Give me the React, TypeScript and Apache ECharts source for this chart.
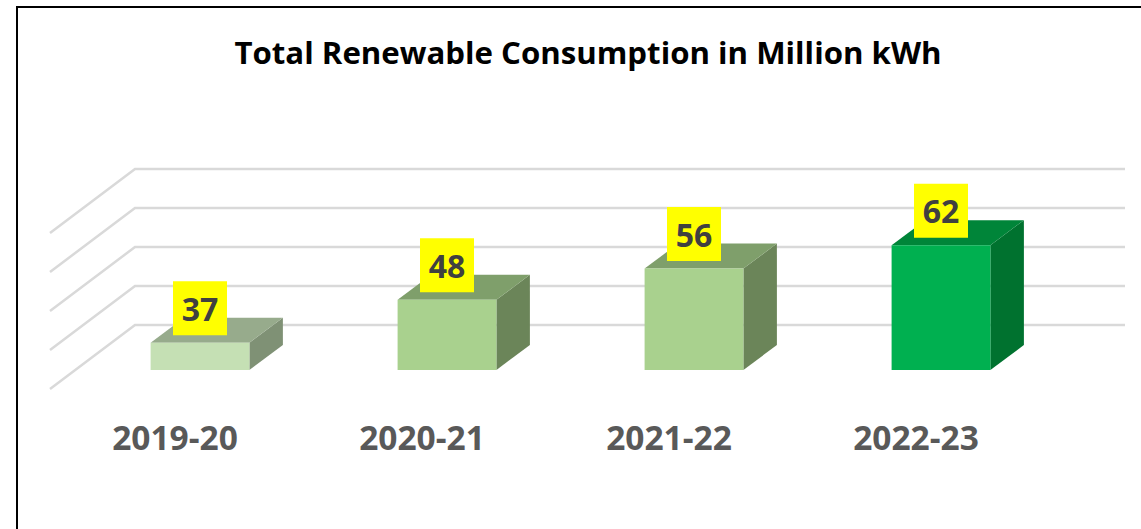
import React, { useEffect, useRef } from "react";
import * as echarts from "echarts";

const categories = ["2019-20", "2020-21", "2021-22", "2022-23"];
const consumption = [37, 48, 56, 62];
const gridValues = [30, 40, 50, 60, 70];
const frontColors = ["#c5e0b4", "#a9d18e", "#a9d18e", "#00b050"];
const topColors = ["#97ab8c", "#7f9f6b", "#7f9f6b", "#008539"];
const sideColors = ["#7f9175", "#6b8559", "#6b8559", "#00722f"];

const TITLE = "Total Renewable Consumption in Million kWh";
const FONT = "'Open Sans', sans-serif";

export default function App() {
  const ref = useRef<HTMLDivElement>(null);

  useEffect(() => {
    const chart = echarts.init(ref.current!, undefined, { renderer: "svg" });
    const depthX = 33.5;
    const depthY = 25;

    chart.setOption({
      animation: false,
      backgroundColor: "#ffffff",
      title: {
        text: TITLE,
        left: 583,
        top: 31,
        textAlign: "center",
        textStyle: { fontFamily: FONT, fontSize: 31.2, fontWeight: "bold", color: "#000000" },
      },
      grid: { left: 76.5, top: 214, width: 988, height: 156 },
      xAxis: {
        type: "category",
        data: categories,
        axisLine: { show: false },
        axisTick: { show: false },
        splitLine: { show: false },
        axisLabel: {
          margin: 50,
          padding: [0, 50, 0, 0],
          fontFamily: FONT,
          fontSize: 33.5,
          fontWeight: "bold",
          color: "#595959",
        },
      },
      yAxis: { type: "value", min: 30, max: 70, interval: 10, show: false },
      graphic: [
        {
          type: "polyline",
          silent: true,
          z: 100,
          shape: {
            points: [
              [17, 529],
              [17, 7],
              [1141, 7],
            ],
          },
          style: { fill: "none", stroke: "#000000", lineWidth: 2 },
        },
      ],
      series: [
        {
          type: "custom",
          silent: true,
          z: 1,
          data: gridValues.map((v) => [0, v]),
          encode: { x: 0, y: 1 },
          renderItem: (_p: any, api: any) => {
            const y = api.coord([0, api.value(1)])[1];
            return {
              type: "polyline",
              shape: {
                points: [
                  [50, y + 19],
                  [135, y - 45],
                  [1125, y - 45],
                ],
              },
              style: { fill: "none", stroke: "#d9d9d9", lineWidth: 2.5 },
            };
          },
        },
        {
          type: "custom",
          z: 2,
          data: consumption.map((v, i) => [i, v]),
          encode: { x: 0, y: 1 },
          renderItem: (p: any, api: any) => {
            const i = api.value(0);
            const value = api.value(1);
            const [cx, top] = api.coord([i, value]);
            const [, base] = api.coord([i, 30]);
            const halfW = (api.size([1, 0])[0] * 0.4) / 2;
            const l = cx - halfW;
            const r = cx + halfW;
            const idx = p.dataIndex;
            return {
              type: "group",
              children: [
                {
                  type: "polygon",
                  shape: {
                    points: [
                      [r, top],
                      [r + depthX, top - depthY],
                      [r + depthX, base - depthY],
                      [r, base],
                    ],
                  },
                  style: { fill: sideColors[idx] },
                },
                {
                  type: "polygon",
                  shape: {
                    points: [
                      [l, top],
                      [l + depthX, top - depthY],
                      [r + depthX, top - depthY],
                      [r, top],
                    ],
                  },
                  style: { fill: topColors[idx] },
                },
                {
                  type: "rect",
                  shape: { x: l, y: top, width: r - l, height: base - top },
                  style: { fill: frontColors[idx] },
                },
                {
                  type: "rect",
                  shape: { x: cx - 27, y: top - 61.5, width: 54, height: 54 },
                  style: { fill: "#ffff00" },
                },
                {
                  type: "text",
                  style: {
                    x: cx,
                    y: top - 34.5,
                    text: String(value),
                    fill: "#404040",
                    font: `bold 32px ${FONT}`,
                    align: "center",
                    verticalAlign: "middle",
                  },
                },
              ],
            };
          },
        },
      ],
    });

    return () => chart.dispose();
  }, []);

  return <div ref={ref} style={{ position: "absolute", left: 0, top: 0, width: 1141, height: 529 }} />;
}
